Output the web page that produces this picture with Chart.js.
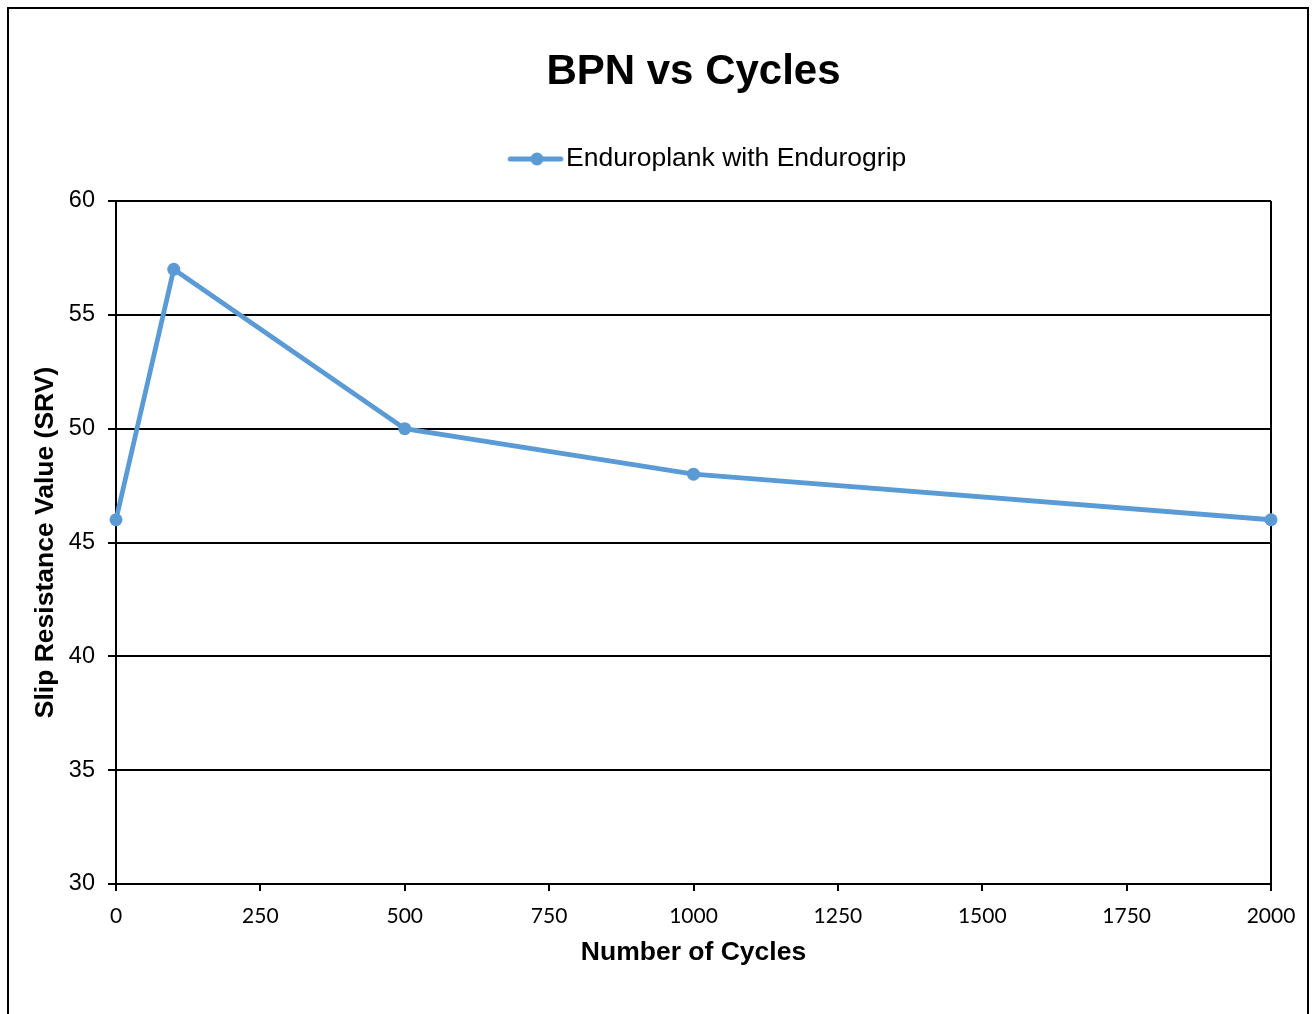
<!DOCTYPE html>
<html>
<head>
<meta charset="utf-8">
<script src="https://cdn.jsdelivr.net/npm/chart.js@4"></script>
<style>
  html, body { margin: 0; padding: 0; background: #fff; overflow: hidden; }
  #wrap { position: relative; width: 1314px; height: 1014px; }
  #frame { position: absolute; left: 7px; top: 7px; width: 1298px; height: 1030px; border: 2px solid #000; pointer-events: none; }
</style>
</head>
<body>
<div id="wrap">
  <canvas id="chart" width="1314" height="1014"></canvas>
  <div id="frame"></div>
</div>
<script>
let cycles = [0, 100, 500, 1000, 2000];
let srv = [46, 57, 50, 48, 46];
let seriesName = "Enduroplank with Endurogrip";
let lineColor = "#5B9BD5";

// legend marker: line with a dot in the middle (drawn off-centre so it sits next to the text)
let marker = document.createElement("canvas");
marker.width = 100;
marker.height = 16;
let mctx = marker.getContext("2d");
mctx.strokeStyle = lineColor;
mctx.lineWidth = 5;
mctx.lineCap = "round";
mctx.beginPath();
mctx.moveTo(43.5, 8);
mctx.lineTo(94, 8);
mctx.stroke();
mctx.fillStyle = lineColor;
mctx.beginPath();
mctx.arc(70.25, 8, 6.5, 0, Math.PI * 2);
mctx.fill();

new Chart("chart", {
    type: "line",
    data: {
        datasets: [{
            label: seriesName,
            data: cycles.map((c, i) => ({ x: c, y: srv[i] })),
            borderColor: lineColor,
            backgroundColor: lineColor,
            borderWidth: 4.8,
            pointRadius: 6.5,
            pointBorderWidth: 0,
            pointHoverRadius: 6.5,
            tension: 0,
            clip: false
        }]
    },
    options: {
        responsive: false,
        animation: false,
        layout: { padding: { top: 10, right: 43, bottom: 0, left: 0 } },
        plugins: {
            title: {
                display: true,
                fullSize: false,
                text: "BPN vs Cycles",
                color: "#000",
                font: { family: "'Liberation Sans', Arial", size: 42, weight: "bold" },
                padding: { top: 37, bottom: 38.35 }
            },
            subtitle: {
                // empty spacer between legend and plot area
                display: true,
                fullSize: false,
                weight: 500,
                text: "",
                font: { size: 10 },
                padding: { top: 0, bottom: 6.75 }
            },
            legend: {
                display: true,
                fullSize: false,
                labels: {
                    color: "#000",
                    font: { family: "'Liberation Sans', Arial", size: 26.5 },
                    usePointStyle: true,
                    pointStyleWidth: 72,
                    padding: 10,
                    generateLabels: chart => [{
                        text: seriesName,
                        pointStyle: marker,
                        fillStyle: lineColor,
                        strokeStyle: lineColor,
                        lineWidth: 0,
                        datasetIndex: 0
                    }]
                }
            },
            tooltip: { enabled: false }
        },
        scales: {
            x: {
                type: "linear",
                min: 0,
                max: 2000,
                ticks: {
                    stepSize: 250,
                    color: "#000",
                    padding: 13,
                    maxRotation: 0,
                    font: { family: "Lato, 'Liberation Sans'", size: 21 },
                    callback: v => String(v)
                },
                grid: {
                    color: ctx => (ctx.tick && ctx.tick.value === 2000) ? "#000" : "rgba(0,0,0,0)",
                    lineWidth: 2,
                    tickColor: "#000",
                    tickLength: 7
                },
                border: { display: true, color: "#000", width: 2 },
                title: {
                    display: true,
                    text: "Number of Cycles",
                    color: "#000",
                    font: { family: "'Liberation Sans', Arial", size: 26.5, weight: "bold" },
                    padding: { top: 0, bottom: 45 }
                },
                afterFit: scale => { scale.height = 130; }
            },
            y: {
                min: 30,
                max: 60,
                ticks: {
                    stepSize: 5,
                    color: "#000",
                    padding: 13,
                    font: { family: "'Liberation Sans', Arial", size: 23.5 }
                },
                grid: {
                    color: "#000",
                    lineWidth: 2,
                    tickColor: "#000",
                    tickLength: 8
                },
                border: { display: true, color: "#000", width: 2 },
                title: {
                    display: true,
                    text: "Slip Resistance Value (SRV)",
                    color: "#000",
                    font: { family: "'Liberation Sans', Arial", size: 26.5, weight: "bold" },
                    padding: { top: 30, bottom: 0 }
                },
                afterFit: scale => { scale.width = 116; }
            }
        }
    }
});
</script>
</body>
</html>
